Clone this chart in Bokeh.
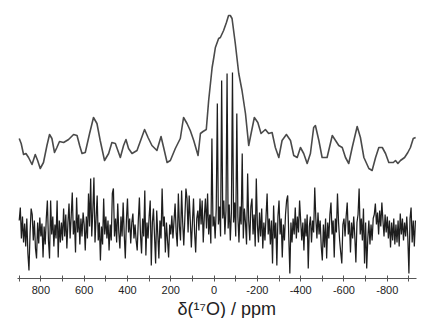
import numpy as np
from bokeh.plotting import figure
from bokeh.models import Range1d, FixedTicker, Title
from bokeh.embed import file_html
from bokeh.resources import INLINE

# ---------------- data ----------------
# upper trace: broadened 17O spectrum (ppm, intensity in arbitrary units)
upper_ppm = [900, 891, 880, 869, 857, 841, 826, 815, 803, 788, 772, 760, 749, 737, 726, 714,
             695, 672, 649, 633, 621, 610, 595, 575, 557, 541, 526, 506, 487, 472, 456, 433,
             418, 407, 395, 379, 356, 336, 321, 305, 287, 264, 245, 233, 217, 202, 179, 156,
             141, 125, 110, 94, 74, 63, 51, 36, 25, 9, 2, -6, -21, -29, -44, -57, -67, -75,
             -83, -98, -114, -129, -145, -160, -171, -186, -202, -217, -237, -252, -268, -283,
             -299, -314, -334, -353, -368, -384, -399, -414, -430, -445, -460, -468, -484, -499,
             -522, -546, -561, -576, -592, -607, -622, -638, -661, -676, -692, -715, -730, -746,
             -761, -777, -792, -807, -828, -838, -849, -861, -880, -895, -907, -920, -931]
upper_int = [32, 27, 16, 17, 13, 6, 16, 10, 2, 8, 25, 36, 32, 18, 23, 29,
             28, 31, 36, 35, 25, 17, 18, 37, 53, 47, 30, 10, 17, 28, 27, 13,
             25, 31, 22, 17, 20, 32, 41, 33, 25, 20, 34, 23, 8, 10, 22, 32,
             53, 47, 40, 30, 15, 37, 39, 41, 70, 103, 112, 123, 132, 133, 140, 148, 155, 155,
             152, 127, 97, 80, 57, 25, 37, 53, 48, 37, 41, 37, 38, 23,
             13, 30, 36, 30, 15, 13, 23, 17, 7, 17, 43, 45, 30, 13,
             13, 35, 30, 25, 23, 13, 7, 23, 44, 33, 13, 2, 0, 13,
             23, 23, 17, 8, 8, 10, 7, 10, 13, 18, 23, 32, 33]

# lower trace: MAS spectrum sampled every 5 ppm from 900 to -930 ppm
lower_first_ppm, lower_last_ppm, lower_step_ppm = 900, -930, -5
lower_int = [
    8, 21, -10, 12, -14, 5, -18, 10, -25, -42, -5, 20, 14, -12, 8, -20, -30, 6, -15, 11,        # 900..805
    -8, 5, -29, 2, -16, 10, 28, -12, -30, 28, -6, 12, -18, 4, -10, 28, -29, 8, -14, 6,          # 800..705
    -12, 20, -8, 14, -20, 6, 25, -10, 12, 36, -6, 8, -24, 31, -4, 14, -16, 10, -8, 16,          # 700..605
    4, -22, 12, -10, 35, 2, 50, -8, 18, 51, -14, 10, 33, -12, 6, -32, 2, -16, 30, -6,           # 600..505
    12, -10, 8, -22, 4, -12, 35, 40, -8, 10, -14, 25, -4, -20, 12, -8, 26, -6, -30, 8,          # 500..405
    30, -4, 10, -15, 6, 15, -10, 4, -12, -22, 8, 31, -6, -25, 10, -8, 38, -27, 6, -10,          # 400..305
    12, 28, -37, 6, 20, -8, -35, 18, -6, -30, 8, -10, 40, 2, 12, -24, 6, -12, -29, 4,           # 300..205
    -6, 13, -10, 8, 25, -4, -18, 35, 2, -12, 38, 6, -17, 10, 40, 30, -4, 33, 8, -19,            # 200..105
    6, 30, -4, -24, 10, 18, -2, 30, 4, 28, -14, 12, 30, 0, 35, -6, 14, -15, 90, 2,              # 100..5
    12, -10, 20, 125, 4, 22, -8, 148, 10, 28, -6, 18, 155, 0, 24, -12, 16, 156, 6, 26,          # 0..-95
    -8, 115, 12, -14, 22, 4, 75, -10, 20, 6, -16, 55, 8, -12, 22, 30, -6, 14, -18, 50,          # -100..-195
    4, -14, 16, -8, 20, -20, 6, -12, 12, 35, -6, 10, -16, 8, -35, 23, -10, 6, -37, 12,          # -200..-295
    28, -6, 10, -29, 4, -12, 14, 28, 33, -8, -45, 6, -14, 10, -6, 21, -10, 12, -4, 28,          # -300..-395
    8, -12, 6, -22, 10, -8, 14, -40, 2, 12, -14, 8, -4, 41, 10, -10, 16, -6, 8, -18,            # -400..-495
    -32, 4, -19, 10, -30, 6, -10, 14, 26, -6, 8, -29, 10, -4, 35, 6, -12, -24, -35, 4,          # -500..-595
    10, -8, 12, 26, -6, 8, -24, 6, -10, 12, -8, -34, 6, 14, 40, -6, 10, -12, 20, -35,           # -600..-695
    6, -40, -10, 8, -16, 4, -12, 10, 14, 25, 4, 16, -6, 18, 2, 26, 8, -8, 14, -4,               # -700..-795
    12, -10, 8, -19, 6, -12, 10, -16, 4, -14, 8, -18, 15, -6, 10, -12, 6, -8, 12, -10,          # -800..-895
    -45, 10, 21, -14, 8, -18, 8,                                                                # -900..-930
]

tick_values = [800, 600, 400, 200, 0, -200, -400, -600, -800]
tick_labels = ["800", "600", "400", "200", "0", "-200", "-400", "-600", "-800"]
minor_tick_values = [900, 700, 500, 300, 100, -100, -300, -500, -700, -900]
axis_title = "\u03b4(\u00b9\u2077O) / ppm"

# ---------------- layout / style ----------------
upper_offset = 58
lower_offset = 0

lower_ppm = np.arange(lower_first_ppm, lower_last_ppm + lower_step_ppm, lower_step_ppm)
assert len(lower_ppm) == len(lower_int)
assert len(upper_ppm) == len(upper_int)

p = figure(frame_width=399, frame_height=268,
           x_range=Range1d(908, -935), y_range=Range1d(-50, 218),
           y_axis_location=None, toolbar_location=None, output_backend="svg",
           min_border_left=17, min_border_right=9, min_border_top=10, min_border_bottom=0)
p.outline_line_color = None
p.xgrid.visible = False
p.ygrid.visible = False
p.background_fill_color = "white"
p.border_fill_color = "white"

p.line(lower_ppm, np.array(lower_int) + lower_offset, line_color="#1e1e1e", line_width=1.25)
p.line(upper_ppm, np.array(upper_int) + upper_offset, line_color="#4a4a4a", line_width=1.6,
       line_join="round")

ax = p.xaxis[0]
ax.ticker = FixedTicker(ticks=tick_values, minor_ticks=minor_tick_values)
ax.major_label_overrides = {v: l for v, l in zip(tick_values, tick_labels)}
ax.axis_line_color = "#555555"
ax.axis_line_width = 1.2
ax.major_tick_line_color = "#555555"
ax.minor_tick_line_color = "#555555"
ax.major_tick_in = 3
ax.major_tick_out = 3
ax.minor_tick_in = 3
ax.minor_tick_out = 3
ax.major_label_standoff = 4
ax.major_label_text_font = "Liberation Sans"
ax.major_label_text_font_size = "11px"
ax.major_label_text_color = "#222222"
ax.major_label_text_line_height = 1.0

t = Title(text=axis_title, align="left", offset=160, standoff=0,
          text_font="Liberation Sans", text_font_size="18px", text_line_height=1.0,
          text_font_style="normal", text_color="#222222")
p.add_layout(t, "below")

open("out.html", "w").write(file_html(p, INLINE))
